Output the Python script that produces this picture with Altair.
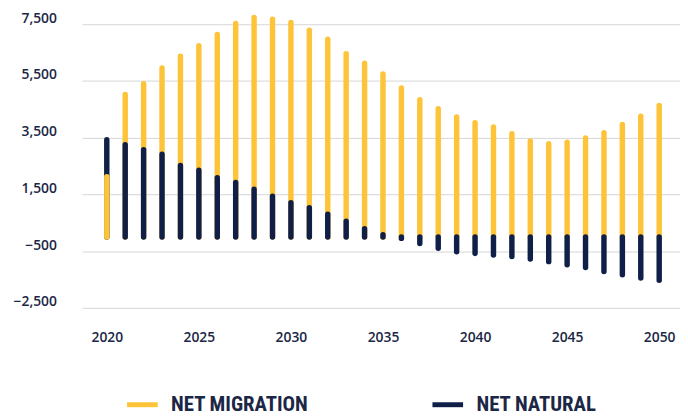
import altair as alt
import pandas as pd

years = list(range(2020, 2051))
net_migration = [2120, 5020, 5400, 5955, 6375, 6745, 7140, 7525, 7735, 7675,
                 7560, 7290, 6970, 6465, 6130, 5745, 5250, 4840, 4520, 4230,
                 4030, 3880, 3640, 3385, 3290, 3340, 3490, 3675, 3965, 4255, 4640]
net_natural = [3430, 3255, 3080, 2920, 2520, 2350, 2090, 1920, 1685, 1440,
               1210, 1035, 800, 555, 290, 80, -50, -230, -400, -520,
               -580, -635, -690, -780, -870, -980, -1075, -1215, -1330, -1450, -1530]
series_names = ["NET MIGRATION", "NET NATURAL"]
series_colors = ["#FDC43A", "#0F1F47"]
y_ticks = [-2500, -500, 1500, 3500, 5500, 7500]
x_ticks = [2020, 2025, 2030, 2035, 2040, 2045, 2050]

rows = []
for i, yr in enumerate(years):
    m, n = net_migration[i], net_natural[i]
    # larger bar drawn first, smaller one on top
    m_z = 0 if abs(m) >= abs(n) else 1
    rows.append({"year": yr, "series": series_names[0], "value": m, "base": 0, "z": m_z})
    rows.append({"year": yr, "series": series_names[1], "value": n, "base": 0, "z": 1 - m_z})
df = pd.DataFrame(rows).sort_values(["z", "year"]).reset_index(drop=True)

label_color = "#1B2745"
axis_font = "Open Sans"

chart = alt.Chart(df).mark_rule(strokeWidth=5.5, strokeCap="round").encode(
    x=alt.X("year:Q",
            scale=alt.Scale(domain=[2018.66, 2051.13], nice=False, zero=False),
            axis=alt.Axis(values=x_ticks, format="d", grid=False, domain=False,
                          ticks=False, labelPadding=23, labelFont=axis_font,
                          labelFontSize=14, labelFontWeight=600,
                          labelColor=label_color, title=None)),
    y=alt.Y("value:Q",
            scale=alt.Scale(domain=[-2500, 7500], nice=False),
            axis=alt.Axis(values=y_ticks, format=",d", grid=True, domain=False,
                          ticks=False, labelPadding=26, labelFont=axis_font,
                          labelFontSize=14, labelFontWeight=600,
                          labelColor=label_color, labelOffset=-6,
                          gridColor="#D6D6D6", gridWidth=1, title=None)),
    y2="base:Q",
    color=alt.Color("series:N",
                    scale=alt.Scale(domain=series_names, range=series_colors),
                    legend=alt.Legend(orient="none", legendX=43, legendY=367,
                                      direction="horizontal", title=None,
                                      symbolType="stroke", symbolSize=961,
                                      symbolStrokeWidth=5, labelOffset=11,
                                      columnPadding=114, padding=0,
                                      labelFont="'Liberation Sans Narrow', 'Roboto Condensed', Roboto",
                                      labelFontSize=21, labelFontWeight="bold",
                                      labelColor=label_color, labelLimit=400)),
    order=alt.Order("z:Q"),
).properties(
    width=605,
    height=287,
    autosize=alt.AutoSizeParams(type="none"),
    padding={"left": 75, "top": 14, "right": 0, "bottom": 110},
).configure_view(stroke=None)

chart.save("out.html", embed_options={"renderer": "svg", "actions": False})
